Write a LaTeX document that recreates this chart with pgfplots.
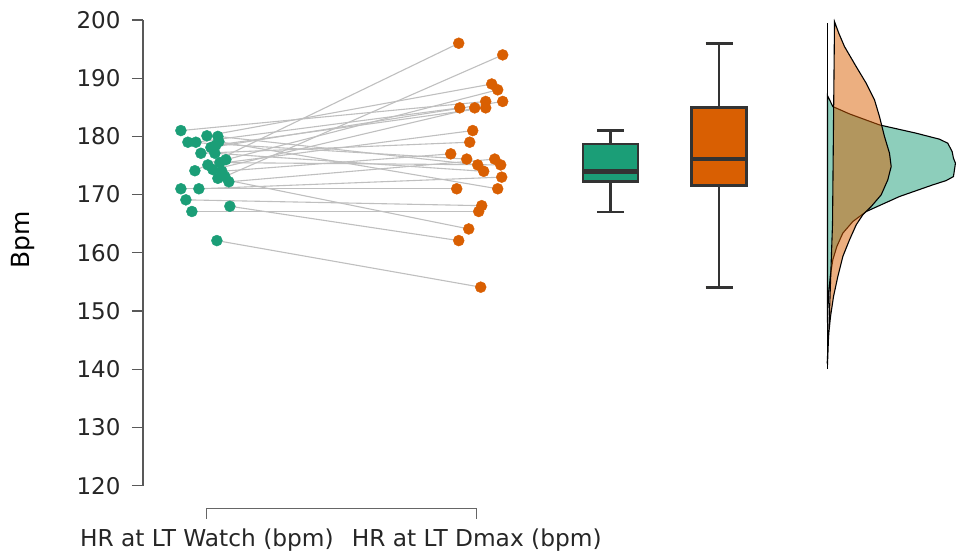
\documentclass[border=0pt]{standalone}
\usepackage{fontspec}
\setmainfont{DejaVu Sans}
\usepackage{pgfplots}
\usepackage{pgfplotstable}
\usepgfplotslibrary{statistics}
\pgfplotsset{compat=1.18}
\definecolor{dgreen}{HTML}{1B9E77}
\definecolor{dorange}{HTML}{D95F02}
\definecolor{boxline}{HTML}{333333}

% paired readings: watch x/value, Dmax x/value (x = jitter position)
\pgfplotstableread{
gx  gy     ox  oy
181 181.0  486 186.0
188 179.0  467 176.1
196 179.0  460 184.9
207 180.1  492 189.0
218 180.0  478 175.1
219 179.1  498 171.0
211 178.1  503 186.0
201 177.1  470 179.0
215 177.1  484 174.0
226 176.0  498 188.0
208 175.1  473 181.0
195 174.1  459 196.0
213 174.3  475 184.9
222 174.0  451 177.0
225 173.1  503 194.0
229 172.2  495 176.1
181 171.0  457 171.0
199 171.0  502 173.0
186 169.1  482 168.1
192 167.1  479 167.1
230 168.0  459 162.1
217 162.1  481 154.1
216 178.5  486 184.9
220 175.5  501 175.1
218 172.8  469 164.1
}\pairs

\begin{document}
\begin{tikzpicture}
\begin{axis}[
    scale only axis,
    width=813pt, height=466pt,
    xmin=143, xmax=956,
    ymin=120, ymax=200,
    clip=false,
    axis y line*=left,
    axis x line*=bottom,
    x axis line style={draw=none},
    y axis line style={black!65, line width=1.2pt},
    ytick={120,130,...,200},
    ytick style={black!65, line width=1.2pt},
    tick align=outside,
    major tick length=11pt,
    xtick={207,477},
    xticklabels={HR at LT Watch (bpm), HR at LT Dmax (bpm)},
    xtick style={draw=none},
    xticklabel style={anchor=base, inner sep=0pt, yshift=-49.7pt, font=\fontsize{23.3}{28}\selectfont, text=black!85},
    yticklabel style={xshift=-8pt, font=\fontsize{23}{28}\selectfont, text=black!85},
    /pgf/number format/assume math mode=true,
    ylabel={Bpm},
    ylabel style={at={(rel axis cs:-0.148,0.528)}, anchor=center, inner sep=0pt, font=\fontsize{25}{30}\selectfont, text=black},
    boxplot/draw direction=y,
    boxplot/every whisker/.style={line width=2.6pt},
    boxplot/every box/.style={line width=2.6pt},
    boxplot/every median/.style={line width=4.5pt},
]
% pair lines
\addplot[no markers, draw=black!25, line width=1.1pt,
    quiver={u=\thisrow{ox}-\thisrow{gx}, v=\thisrow{oy}-\thisrow{gy}}]
    table[x=gx, y=gy] {\pairs};
\addplot[only marks, mark=*, mark size=5.5pt, color=dgreen] table[x=gx, y=gy] {\pairs};
\addplot[only marks, mark=*, mark size=5.5pt, color=dorange] table[x=ox, y=oy] {\pairs};

% box plots
\addplot[draw=boxline, fill=dgreen,
    boxplot prepared={median=174.0, lower quartile=172.2, upper quartile=178.7,
      lower whisker=167.0, upper whisker=181.0, draw position=611,
      box extend=55, whisker extend=27}]
    coordinates {};
\addplot[draw=boxline, fill=dorange,
    boxplot prepared={median=176.1, lower quartile=171.6, upper quartile=185.0,
      lower whisker=154.0, upper whisker=196.0, draw position=719.5,
      box extend=55, whisker extend=27}]
    coordinates {};

% densities
\addplot[fill=dgreen, fill opacity=0.5, draw=black, line width=1.1pt] coordinates {
(828,187.0) (829.3,186.56) (833.3,185.12) (850,183.86) (880,181.97) (916.7,180.55)
(940,179.52) (948.3,178.83) (952.7,177.39) (954,176.26) (956,175.4) (954,173.1)
(946.7,172.41) (933.3,171.67) (900,169.67) (866.7,167.09) (853.3,165.37)
(843.3,163.38) (837.3,161.08) (833.3,158.8) (830.7,155.93) (829.3,153.08)
(828.3,150.21) (828,148)} -- cycle;
\addplot[fill=dorange, fill opacity=0.5, draw=black, line width=1.1pt] coordinates {
(835,199.71) (839.3,197.71) (845,195.42) (856.7,191.98) (866.7,189.13) (875,186.27)
(880,183.4) (885,179.97) (890,177.12) (891.7,174.82) (888.3,172.53) (881.7,169.96)
(871.7,167.95) (863.3,166.52) (856.7,164.81) (850,162.23) (843.3,159.37)
(838.3,155.93) (834,152.5) (831,149.06) (829.3,146.21) (828.3,143.35) (827.7,141.06)
(828,141) (830,150) (833,165) (835,199.71)} -- cycle;
\addplot[black, line width=1.3pt, no markers] coordinates {(828,140.1) (828,199.5)};

% category bracket
\draw[black!60, line width=1pt] (axis cs:207,114.33) -- (axis cs:207,116) -- (axis cs:477,116) -- (axis cs:477,114.33);
% page extent
\path (axis cs:0,203.43) rectangle (axis cs:956,108.67);
\end{axis}
\end{tikzpicture}
\end{document}
